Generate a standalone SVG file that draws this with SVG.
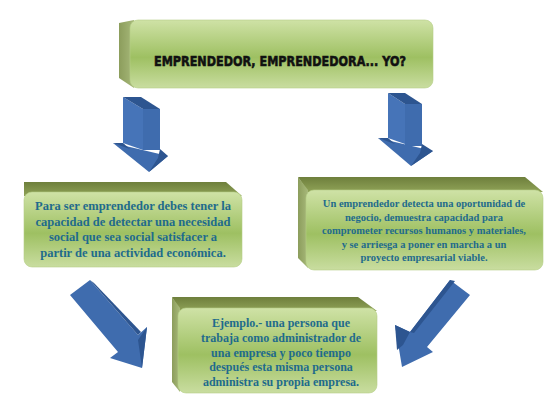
<svg xmlns="http://www.w3.org/2000/svg" width="560" height="420" viewBox="0 0 560 420">
<defs>
<linearGradient id="face" x1="0" y1="0" x2="0" y2="1">
<stop offset="0" stop-color="#cfe2a6"/>
<stop offset="0.55" stop-color="#9ec062"/>
<stop offset="1" stop-color="#c9dda0"/>
</linearGradient>
<linearGradient id="bevel" x1="0" y1="0" x2="0" y2="1">
<stop offset="0" stop-color="#6e7f3c"/>
<stop offset="1" stop-color="#8fa257"/>
</linearGradient>
<linearGradient id="side" x1="0" y1="0" x2="1" y2="0">
<stop offset="0" stop-color="#8c9d5c"/>
<stop offset="1" stop-color="#a7b97a"/>
</linearGradient>
</defs>
<style>
.face{fill:url(#face);stroke:#b6cf86;stroke-width:0.6}
.bevel{fill:url(#bevel)}
.side{fill:url(#side)}
.txt{font-weight:bold;fill:#1f6b8c;text-anchor:middle}
.title{font-weight:900;fill:#111;text-anchor:middle;font-size:14px}
.aMid{fill:#3f6cae}
.aDark{fill:#2d5590}
.aLight{fill:#4674b8}
</style>
<rect width="560" height="420" fill="#ffffff"/>

<g id="node-title">
<polygon class="side" points="119,23 134,20 134,88 119,78"/>
<rect class="face" x="130" y="20" width="303" height="68" rx="8"/>
<text class="title" font-family="'DejaVu Sans', sans-serif" x="280" y="66" textLength="252" lengthAdjust="spacingAndGlyphs" stroke="#111" stroke-width="0.6">EMPRENDEDOR, EMPRENDEDORA... YO?</text>
</g>

<g id="node-left" font-family="'Liberation Serif', 'DejaVu Serif', serif">
<polygon class="bevel" points="24,182 226,182 242,196 24,196"/>
<rect class="face" x="24" y="192" width="218" height="75" rx="8"/>
<text class="txt" font-size="12.5" x="133" y="210">Para ser emprendedor debes tener la</text>
<text class="txt" font-size="12.5" x="133" y="226">capacidad de detectar una necesidad</text>
<text class="txt" font-size="12.5" x="133" y="241">social que sea social satisfacer a</text>
<text class="txt" font-size="12.5" x="133" y="257">partir de una actividad económica.</text>
</g>

<g id="node-right" font-family="'Liberation Serif', 'DejaVu Serif', serif">
<polygon class="bevel" points="298,177 525,177 543,192 308,192"/>
<polygon class="side" points="298,177 308,190 308,268 298,258"/>
<rect class="face" x="306" y="190" width="237" height="80" rx="8"/>
<text class="txt" font-size="10.5" x="424" y="207">Un emprendedor detecta una oportunidad de</text>
<text class="txt" font-size="10.5" x="424" y="221">negocio, demuestra capacidad para</text>
<text class="txt" font-size="10.5" x="424" y="234">comprometer recursos humanos y materiales,</text>
<text class="txt" font-size="10.5" x="424" y="248">y se arriesga a poner en marcha a un</text>
<text class="txt" font-size="10.5" x="424" y="261">proyecto empresarial viable.</text>
</g>

<g id="node-bottom" font-family="'Liberation Serif', 'DejaVu Serif', serif">
<polygon class="bevel" points="172,297 358,297 377,311 180,311"/>
<polygon class="side" points="172,297 180,308 180,392 172,382"/>
<rect class="face" x="178" y="308" width="199" height="85" rx="8"/>
<text class="txt" font-size="12" x="281" y="327">Ejemplo.- una persona que</text>
<text class="txt" font-size="12" x="281" y="342">trabaja como administrador de</text>
<text class="txt" font-size="12" x="281" y="357">una empresa y poco tiempo</text>
<text class="txt" font-size="12" x="281" y="371">después esta misma persona</text>
<text class="txt" font-size="12" x="281" y="386">administra su propia empresa.</text>
</g>

<g id="connectors">
<g id="arrow-down-left">
<polygon class="aLight" points="123,97 143,109 143,150 123,143"/>
<polygon class="aMid" points="143,109 160,109 160,150 143,150"/>
<polygon class="aDark" points="123,97 141,97 160,109 143,109"/>
<polygon class="aMid" points="113,143 168,156 149,172"/>
<polygon class="aDark" points="113,143 123,143 130,149"/>
<polygon class="aDark" points="160,149 168,156 149,172 158,158"/>
</g>
<g id="arrow-down-right">
<polygon class="aLight" points="388,93 405,104 405,144 388,138"/>
<polygon class="aMid" points="405,104 422,104 422,146 405,146"/>
<polygon class="aDark" points="388,93 405,93 422,104 405,104"/>
<polygon class="aMid" points="378,138 433,151 411,166"/>
<polygon class="aDark" points="378,138 388,138 395,144"/>
<polygon class="aDark" points="422,144 433,151 411,166 420,153"/>
</g>
<g id="arrow-diag-left">
<polygon class="aMid" points="70,295 90,280 138,335 147,327 142,368 110,358 118,352"/>
<polygon class="aDark" points="90,280 94,283 141,332 138,335"/>
<polygon class="aDark" points="147,327 142,368 138,340"/>
</g>
<g id="arrow-diag-right">
<polygon class="aMid" points="450,280 470,295 427,347 433,352 402,367 395,325 410,332"/>
<polygon class="aDark" points="395,325 410,332 403,345 397,350"/>
<polygon class="aDark" points="450,280 455,281 414,333 410,332"/>
</g>
</g>
</svg>
